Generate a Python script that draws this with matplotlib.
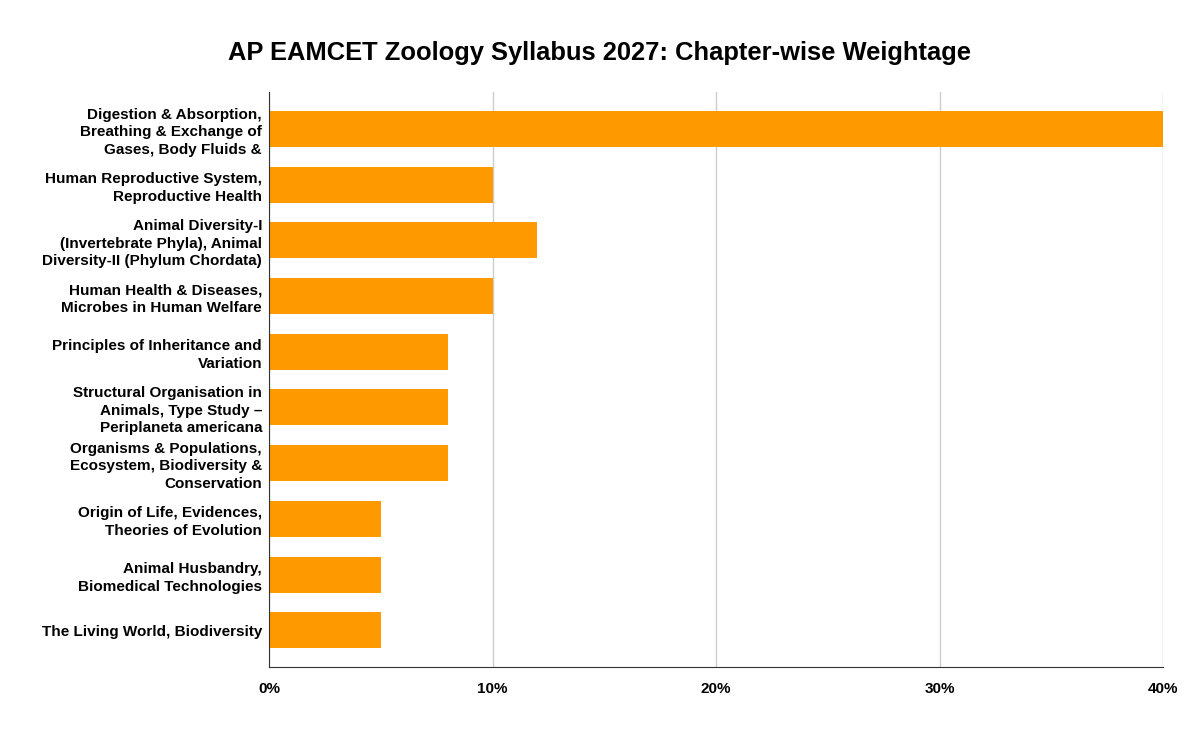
import matplotlib
matplotlib.use('Agg')
import matplotlib.pyplot as plt
from matplotlib.ticker import FuncFormatter

plt.rcParams['font.family'] = ['Liberation Sans', 'DejaVu Sans']

chapters = [
    "Digestion & Absorption,\nBreathing & Exchange of\nGases, Body Fluids &",
    "Human Reproductive System,\nReproductive Health",
    "Animal Diversity-I\n(Invertebrate Phyla), Animal\nDiversity-II (Phylum Chordata)",
    "Human Health & Diseases,\nMicrobes in Human Welfare",
    "Principles of Inheritance and\nVariation",
    "Structural Organisation in\nAnimals, Type Study \u2013\nPeriplaneta americana",
    "Organisms & Populations,\nEcosystem, Biodiversity &\nConservation",
    "Origin of Life, Evidences,\nTheories of Evolution",
    "Animal Husbandry,\nBiomedical Technologies",
    "The Living World, Biodiversity",
]
weightage = [40, 10, 12, 10, 8, 8, 8, 5, 5, 5]
xticks = [0, 10, 20, 30, 40]

fig = plt.figure(figsize=(12, 7.3), dpi=100)
ax = fig.add_axes([269/1200, 1-667/730, (1163-269)/1200, (667-92)/730])

ypos = list(range(len(chapters)))
ax.barh(ypos, weightage, height=0.647, color='#FF9900', zorder=3)

ax.set_xlim(0, 40)
ax.set_ylim(9.66, -0.665)
ax.set_xticks(xticks)
ax.xaxis.set_major_formatter(FuncFormatter(lambda v, p: '%d%%' % v))
ax.set_yticks(ypos)
ax.set_yticklabels(chapters, fontsize=11, fontweight='bold', linespacing=1.32)
for t in ax.get_xticklabels():
    t.set_fontsize(11)
    t.set_fontweight('bold')

ax.tick_params(axis='both', length=0)
ax.tick_params(axis='x', pad=11)
ax.tick_params(axis='y', pad=5)
ax.grid(axis='x', color='#cccccc', linewidth=1, zorder=0)
for s in ['top', 'right']:
    ax.spines[s].set_visible(False)
ax.spines['left'].set_color('#333333')
ax.spines['bottom'].set_color('#333333')
ax.spines['left'].set_zorder(4)

fig.text(0.5, 1-53/730, 'AP EAMCET Zoology Syllabus 2027: Chapter-wise Weightage',
         ha='center', va='center', fontsize=18.4, fontweight='bold')

fig.savefig('out.png', dpi=100)
